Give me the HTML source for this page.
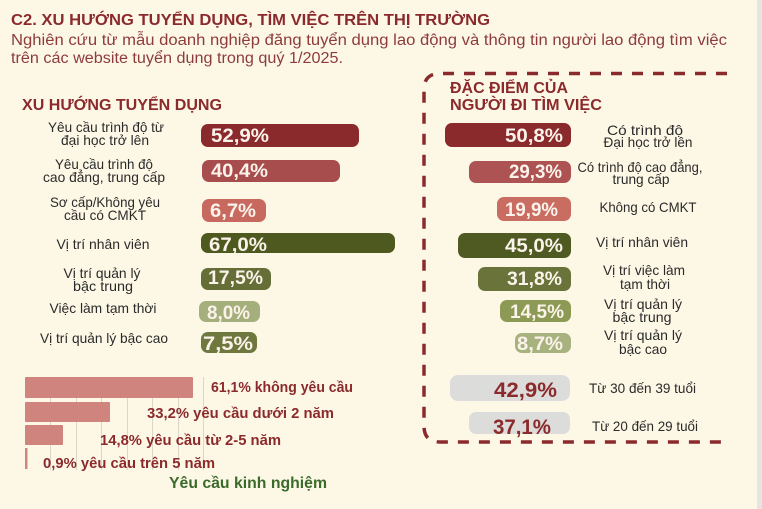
<!DOCTYPE html>
<html><head><meta charset="utf-8"><style>
html,body{margin:0;padding:0;background:#fdf8e6;}
svg{display:block;}
text{font-family:"Liberation Sans",sans-serif;}
</style></head><body>
<svg width="762" height="509" viewBox="0 0 762 509" xmlns="http://www.w3.org/2000/svg">
<rect width="762" height="509" fill="#fdf8e6"/>
<rect x="757" y="0" width="5" height="509" fill="#e7e5e1"/>

<!-- Title -->
<text x="11" y="25" font-size="16" font-weight="bold" fill="#8b2a2c" textLength="479" lengthAdjust="spacingAndGlyphs">C2. XU HƯỚNG TUYỂN DỤNG, TÌM VIỆC TRÊN THỊ TRƯỜNG</text>
<text x="11" y="45" font-size="15.5" fill="#8d3b3b" textLength="716" lengthAdjust="spacingAndGlyphs">Nghiên cứu từ mẫu doanh nghiệp đăng tuyển dụng lao động và thông tin người lao động tìm việc</text>
<text x="11" y="63" font-size="15.5" fill="#8d3b3b" textLength="332" lengthAdjust="spacingAndGlyphs">trên các website tuyển dụng trong quý 1/2025.</text>

<text x="22" y="110" font-size="15.5" font-weight="bold" fill="#8b2a2c" textLength="200" lengthAdjust="spacingAndGlyphs">XU HƯỚNG TUYỂN DỤNG</text>

<!-- Left bars -->
<g>
<rect x="201" y="124" width="158" height="23" rx="7" fill="#8b2a2c"/>
<rect x="202" y="160" width="138" height="22" rx="7" fill="#a84d4e"/>
<rect x="202" y="199" width="64" height="23" rx="7" fill="#c8695f"/>
<rect x="201" y="233" width="194" height="20" rx="7" fill="#4e5920"/>
<rect x="201" y="268" width="70" height="22" rx="7" fill="#646e36"/>
<rect x="199" y="301" width="61" height="21" rx="7" fill="#a5af7c"/>
<rect x="201" y="332" width="56" height="21" rx="7" fill="#6e783f"/>
</g>
<g font-size="19" font-weight="bold" fill="#fbf3ea">
<text x="211" y="142" textLength="58" lengthAdjust="spacingAndGlyphs">52,9%</text>
<text x="211" y="177" textLength="57" lengthAdjust="spacingAndGlyphs">40,4%</text>
<text x="210" y="217" textLength="46" lengthAdjust="spacingAndGlyphs">6,7%</text>
<text x="209" y="251" textLength="58" lengthAdjust="spacingAndGlyphs">67,0%</text>
<text x="208" y="284" textLength="55" lengthAdjust="spacingAndGlyphs">17,5%</text>
<text x="207" y="319" textLength="43" lengthAdjust="spacingAndGlyphs">8,0%</text>
<text x="203" y="350" textLength="50" lengthAdjust="spacingAndGlyphs">7,5%</text>
</g>

<!-- Left labels -->
<g font-size="14" fill="#2a2a2a" text-anchor="middle">
<text x="106" y="132" textLength="116" lengthAdjust="spacingAndGlyphs">Yêu cầu trình độ từ</text>
<text x="105" y="145" textLength="88" lengthAdjust="spacingAndGlyphs">đại học trở lên</text>
<text x="104" y="169" textLength="98" lengthAdjust="spacingAndGlyphs">Yêu cầu trình độ</text>
<text x="104" y="182" textLength="122" lengthAdjust="spacingAndGlyphs">cao đẳng, trung cấp</text>
<text x="105" y="207" textLength="110" lengthAdjust="spacingAndGlyphs">Sơ cấp/Không yêu</text>
<text x="105" y="220" textLength="82" lengthAdjust="spacingAndGlyphs">cầu có CMKT</text>
<text x="103" y="249" textLength="93" lengthAdjust="spacingAndGlyphs">Vị trí nhân viên</text>
<text x="102" y="278" textLength="77" lengthAdjust="spacingAndGlyphs">Vị trí quản lý</text>
<text x="103" y="291" textLength="60" lengthAdjust="spacingAndGlyphs">bậc trung</text>
<text x="103" y="313" textLength="107" lengthAdjust="spacingAndGlyphs">Việc làm tạm thời</text>
<text x="104" y="343" textLength="128" lengthAdjust="spacingAndGlyphs">Vị trí quản lý bậc cao</text>
</g>

<!-- Experience chart -->
<g stroke="#dbd6ca" stroke-width="1">
<line x1="50.5" y1="377" x2="50.5" y2="470"/>
<line x1="76.5" y1="377" x2="76.5" y2="470"/>
<line x1="101.5" y1="377" x2="101.5" y2="470"/>
<line x1="127.5" y1="377" x2="127.5" y2="470"/>
<line x1="152.5" y1="377" x2="152.5" y2="470"/>
<line x1="178.5" y1="377" x2="178.5" y2="470"/>
<line x1="203.5" y1="377" x2="203.5" y2="470"/>
</g>
<g fill="#cf857d">
<rect x="25" y="377" width="168" height="21" rx="1"/>
<rect x="25" y="402" width="85" height="20" rx="1"/>
<rect x="25" y="425" width="38" height="20" rx="1"/>
<rect x="25" y="448" width="2.5" height="21"/>
</g>
<g font-size="15" font-weight="bold" fill="#8b2a2c">
<text x="211" y="392" textLength="142" lengthAdjust="spacingAndGlyphs">61,1% không yêu cầu</text>
<text x="147" y="418" textLength="187" lengthAdjust="spacingAndGlyphs">33,2% yêu cầu dưới  2 năm</text>
<text x="100" y="445" textLength="181" lengthAdjust="spacingAndGlyphs">14,8% yêu cầu từ 2-5 năm</text>
<text x="43" y="468" textLength="172" lengthAdjust="spacingAndGlyphs">0,9% yêu cầu trên 5 năm</text>
</g>
<text x="169" y="488" font-size="16" font-weight="bold" fill="#3b6b2b" textLength="158" lengthAdjust="spacingAndGlyphs">Yêu cầu kinh nghiệm</text>

<!-- Right panel dashed border -->
<path d="M 727 73.5 H 440 Q 424 73.5 424 89.5 V 426 Q 424 442 440 442 H 727" fill="none" stroke="#8b2a2c" stroke-width="3.5" stroke-dasharray="11 10"/>

<text x="450" y="93" font-size="16" font-weight="bold" fill="#8b2a2c" textLength="118" lengthAdjust="spacingAndGlyphs">ĐẶC ĐIỂM CỦA</text>
<text x="450" y="110" font-size="16" font-weight="bold" fill="#8b2a2c" textLength="152" lengthAdjust="spacingAndGlyphs">NGƯỜI ĐI TÌM VIỆC</text>

<!-- Right bars -->
<g>
<rect x="445" y="123" width="126" height="24" rx="7" fill="#8b2a2c"/>
<rect x="469" y="161" width="102" height="22" rx="7" fill="#ad5354"/>
<rect x="497" y="197" width="74" height="24" rx="7" fill="#c96c62"/>
<rect x="458" y="233" width="113" height="25" rx="7" fill="#4f5a22"/>
<rect x="478" y="267" width="93" height="24" rx="7" fill="#69733a"/>
<rect x="500" y="300" width="71" height="22" rx="7" fill="#8d9a55"/>
<rect x="515" y="333" width="56" height="20" rx="7" fill="#a8b27f"/>
<rect x="450" y="375" width="120" height="26" rx="8" fill="#dcdcdb"/>
<rect x="469" y="412" width="101" height="22" rx="7" fill="#dcdcdb"/>
</g>
<g font-size="19" font-weight="bold" fill="#fbf3ea">
<text x="505" y="142" textLength="58" lengthAdjust="spacingAndGlyphs">50,8%</text>
<text x="509" y="178" textLength="53" lengthAdjust="spacingAndGlyphs">29,3%</text>
<text x="505" y="216" textLength="53" lengthAdjust="spacingAndGlyphs">19,9%</text>
<text x="505" y="252" textLength="58" lengthAdjust="spacingAndGlyphs">45,0%</text>
<text x="507" y="285" textLength="55" lengthAdjust="spacingAndGlyphs">31,8%</text>
<text x="510" y="318" textLength="54" lengthAdjust="spacingAndGlyphs">14,5%</text>
<text x="517" y="350" textLength="46" lengthAdjust="spacingAndGlyphs">8,7%</text>
</g>
<g font-size="21" font-weight="bold" fill="#8b2a2c">
<text x="494" y="397" textLength="63" lengthAdjust="spacingAndGlyphs">42,9%</text>
<text x="493" y="434" textLength="58" lengthAdjust="spacingAndGlyphs">37,1%</text>
</g>

<!-- Right labels -->
<g font-size="14" fill="#2a2a2a" text-anchor="middle">
<text x="645" y="135" textLength="76" lengthAdjust="spacingAndGlyphs">Có trình độ</text>
<text x="648" y="147" textLength="89" lengthAdjust="spacingAndGlyphs">Đại học trở lên</text>
<text x="640" y="172" textLength="125" lengthAdjust="spacingAndGlyphs">Có trình độ cao đẳng,</text>
<text x="641" y="184" textLength="57" lengthAdjust="spacingAndGlyphs">trung cấp</text>
<text x="648" y="212" textLength="97" lengthAdjust="spacingAndGlyphs">Không có CMKT</text>
<text x="642" y="247" textLength="92" lengthAdjust="spacingAndGlyphs">Vị trí nhân viên</text>
<text x="644" y="275" textLength="82" lengthAdjust="spacingAndGlyphs">Vị trí việc làm</text>
<text x="645" y="289" textLength="50" lengthAdjust="spacingAndGlyphs">tạm thời</text>
<text x="643" y="309" textLength="78" lengthAdjust="spacingAndGlyphs">Vị trí quản lý</text>
<text x="642" y="322" textLength="59" lengthAdjust="spacingAndGlyphs">bậc trung</text>
<text x="643" y="340" textLength="78" lengthAdjust="spacingAndGlyphs">Vị trí quản lý</text>
<text x="643" y="354" textLength="48" lengthAdjust="spacingAndGlyphs">bậc cao</text>
</g>
<g font-size="14" fill="#2a2a2a">
<text x="589" y="393" textLength="107" lengthAdjust="spacingAndGlyphs">Từ 30 đến 39 tuổi</text>
<text x="592" y="431" textLength="106" lengthAdjust="spacingAndGlyphs">Từ 20 đến 29 tuổi</text>
</g>
</svg>
</body></html>
